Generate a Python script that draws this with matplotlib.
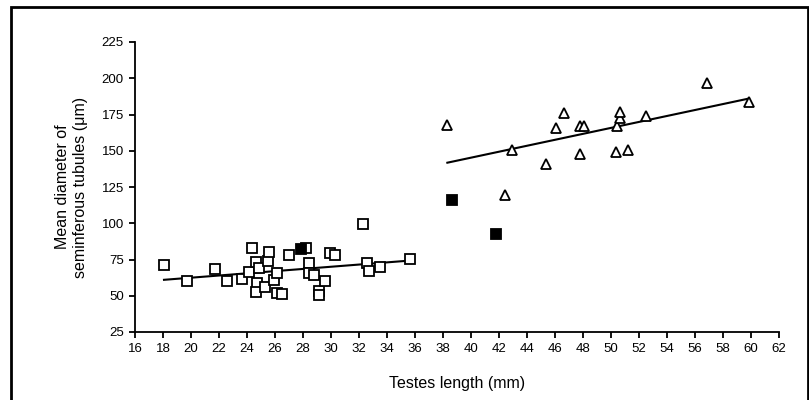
import matplotlib
matplotlib.use("Agg")
import matplotlib.pyplot as plt
import numpy as np
from matplotlib.patches import Rectangle

plt.rcParams["font.family"] = ["Liberation Sans", "DejaVu Sans"]

# open squares (small testes group)
sq_x = [18.07, 19.74, 21.74, 22.57, 23.67, 24.17, 24.36, 24.64, 24.69, 24.64,
        24.88, 25.5, 25.55, 25.31, 25.93, 26.12, 26.12, 26.5, 26.98, 28.2,
        28.4, 28.4, 28.8, 29.12, 29.12, 29.55, 29.93, 30.3, 32.26, 32.6,
        32.7, 33.5, 35.64]
sq_y = [71.2, 60.0, 68.3, 60.2, 61.6, 66.4, 83.2, 73.5, 58.6, 52.8,
        69.0, 74.0, 80.4, 55.8, 60.9, 65.9, 52.1, 51.2, 78.1, 82.8,
        72.4, 65.9, 64.3, 53.5, 50.5, 60.2, 79.3, 78.1, 99.3, 72.4,
        66.9, 70.1, 75.4]

# open triangles (large testes group)
tri_x = [38.31, 42.43, 42.95, 45.38, 46.05, 46.64, 47.76, 48.07, 47.79, 50.36,
         50.4, 50.64, 50.64, 51.24, 52.5, 56.88, 59.86]
tri_y = [167.6, 119.8, 150.6, 140.7, 165.8, 175.9, 167.4, 167.4, 147.6, 148.8,
         167.2, 172.5, 176.8, 150.6, 173.9, 196.6, 183.5]

# filled squares
fill_x = [27.83, 38.62, 41.76]
fill_y = [82.3, 116.1, 92.8]

x_ticks = list(range(16, 63, 2))
y_ticks = list(range(25, 226, 25))

fig = plt.figure(figsize=(8.09, 4.0), dpi=100)
ax = fig.add_axes([0.1669, 0.17, 0.796, 0.725])

# frame around the whole chart
fig.patches.append(Rectangle((11 / 809, -0.05), 797 / 809, 1.05 - 6.5 / 400,
                             transform=fig.transFigure, fill=False,
                             edgecolor="black", linewidth=2.0))


def trend(ax, xs, ys):
    xs = np.asarray(xs)
    k, b = np.polyfit(xs, ys, 1)
    xx = np.array([xs.min(), xs.max()])
    ax.plot(xx, k * xx + b, color="black", linewidth=1.5, zorder=2)


trend(ax, sq_x, sq_y)
trend(ax, tri_x, tri_y)

ax.plot(sq_x, sq_y, "s", markersize=7, markerfacecolor="white",
        markeredgecolor="black", markeredgewidth=1.3, zorder=3)
ax.plot(tri_x, tri_y, "^", markersize=7.5, markerfacecolor="white",
        markeredgecolor="black", markeredgewidth=1.3, zorder=3)
ax.plot(fill_x, fill_y, "s", markersize=7, markerfacecolor="black",
        markeredgecolor="black", markeredgewidth=1.3, zorder=4)

ax.set_xlim(16, 62)
ax.set_ylim(25, 225)
ax.set_xticks(x_ticks)
ax.set_yticks(y_ticks)
ax.spines["top"].set_visible(False)
ax.spines["right"].set_visible(False)
for s in ("left", "bottom"):
    ax.spines[s].set_linewidth(1.3)
ax.tick_params(direction="out", length=4, width=1.3, labelsize=9.5, pad=4)

ax.set_xlabel("Testes length (mm)", fontsize=11.5, labelpad=15)
ax.set_ylabel("Mean diameter of\nseminferous tubules (\u03bcm)", fontsize=11.5,
              labelpad=10)

fig.savefig("out.png", dpi=100, facecolor="white")
